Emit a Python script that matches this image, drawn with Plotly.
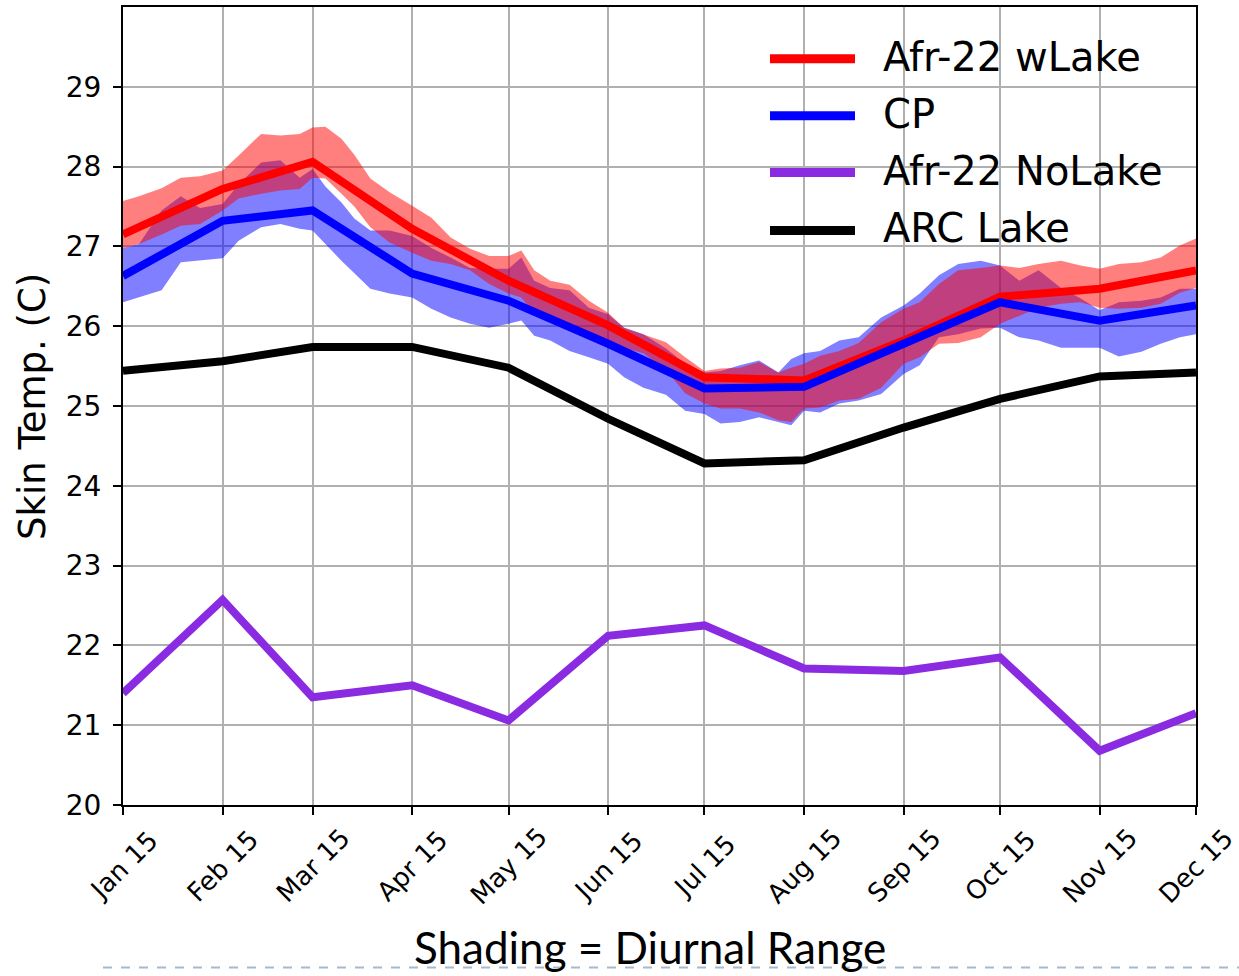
import plotly.graph_objects as go

# ---------------- data ----------------
month_dates = ["2001-01-15", "2001-02-15", "2001-03-15", "2001-04-15", "2001-05-15", "2001-06-15",
               "2001-07-15", "2001-08-15", "2001-09-15", "2001-10-15", "2001-11-15", "2001-12-15"]
month_labels = ["Jan 15", "Feb 15", "Mar 15", "Apr 15", "May 15", "Jun 15",
                "Jul 15", "Aug 15", "Sep 15", "Oct 15", "Nov 15", "Dec 15"]

afr_wlake = [27.15, 27.72, 28.06, 27.22, 26.57, 26.01, 25.36, 25.32, 25.82, 26.37, 26.47, 26.70]
cp = [26.63, 27.32, 27.45, 26.66, 26.32, 25.78, 25.22, 25.24, 25.78, 26.30, 26.07, 26.26]
afr_nolake = [21.40, 22.57, 21.35, 21.50, 21.06, 22.12, 22.25, 21.71, 21.68, 21.85, 20.68, 21.15]
arc_lake = [25.44, 25.56, 25.74, 25.74, 25.48, 24.84, 24.28, 24.32, 24.73, 25.09, 25.37, 25.42]

band_dates = ["2001-01-15", "2001-01-20", "2001-01-27", "2001-02-02", "2001-02-08", "2001-02-15",
              "2001-02-20", "2001-02-27", "2001-03-05", "2001-03-11", "2001-03-15", "2001-03-19",
              "2001-03-24", "2001-03-28", "2001-04-02", "2001-04-08", "2001-04-15", "2001-04-21",
              "2001-04-27", "2001-05-03", "2001-05-09", "2001-05-15", "2001-05-19", "2001-05-23",
              "2001-05-28", "2001-06-03", "2001-06-09", "2001-06-15", "2001-06-20", "2001-06-26",
              "2001-07-03", "2001-07-09", "2001-07-15", "2001-07-20", "2001-07-26", "2001-08-01",
              "2001-08-07", "2001-08-11", "2001-08-15", "2001-08-20", "2001-08-26", "2001-09-01",
              "2001-09-08", "2001-09-15", "2001-09-20", "2001-09-26", "2001-10-02", "2001-10-09",
              "2001-10-15", "2001-10-21", "2001-10-27", "2001-11-03", "2001-11-09", "2001-11-15",
              "2001-11-21", "2001-11-28", "2001-12-04", "2001-12-10", "2001-12-15"]

wlake_upper = [27.57, 27.63, 27.73, 27.86, 27.88, 27.95, 28.14, 28.41, 28.39, 28.41,
               28.49, 28.50, 28.35, 28.15, 27.85, 27.68, 27.51, 27.36, 27.11, 26.97,
               26.88, 26.88, 26.95, 26.70, 26.57, 26.52, 26.32, 26.17, 25.98, 25.90,
               25.80, 25.61, 25.44, 25.47, 25.48, 25.55, 25.42, 25.48, 25.53, 25.63,
               25.69, 25.79, 26.05, 26.22, 26.30, 26.53, 26.70, 26.73, 26.76, 26.73,
               26.78, 26.82, 26.76, 26.72, 26.78, 26.80, 26.86, 27.01, 27.10]
wlake_lower = [26.98, 27.03, 27.15, 27.26, 27.28, 27.45, 27.60, 27.66, 27.70, 27.72,
               27.86, 27.85, 27.66, 27.50, 27.24, 27.05, 26.92, 26.82, 26.78, 26.70,
               26.53, 26.41, 26.36, 26.15, 26.07, 25.98, 25.92, 25.78, 25.73, 25.66,
               25.45, 25.16, 25.03, 24.97, 24.97, 24.92, 24.82, 24.80, 24.97, 24.98,
               25.07, 25.09, 25.23, 25.53, 25.61, 25.78, 25.79, 25.86, 26.03, 26.13,
               26.23, 26.28, 26.30, 26.23, 26.22, 26.23, 26.28, 26.42, 26.48]
cp_upper = [26.98, 27.03, 27.45, 27.63, 27.48, 27.53, 27.78, 28.05, 28.08, 27.86,
            27.97, 27.75, 27.55, 27.35, 27.20, 27.20, 27.13, 26.98, 26.86, 26.73,
            26.72, 26.72, 26.86, 26.57, 26.48, 26.45, 26.23, 26.15, 25.98, 25.90,
            25.72, 25.53, 25.42, 25.44, 25.51, 25.57, 25.42, 25.59, 25.66, 25.69,
            25.82, 25.86, 26.11, 26.26, 26.41, 26.64, 26.78, 26.82, 26.76, 26.57,
            26.70, 26.48, 26.35, 26.20, 26.30, 26.32, 26.36, 26.47, 26.47]
cp_lower = [26.30, 26.36, 26.45, 26.80, 26.82, 26.85, 27.07, 27.24, 27.28, 27.22,
            27.20, 27.03, 26.82, 26.66, 26.47, 26.41, 26.36, 26.22, 26.11, 26.03,
            25.98, 26.03, 26.07, 25.88, 25.82, 25.69, 25.61, 25.53, 25.36, 25.23,
            25.14, 24.94, 24.90, 24.78, 24.80, 24.86, 24.80, 24.76, 24.94, 24.92,
            25.03, 25.07, 25.15, 25.40, 25.51, 25.86, 25.90, 25.97, 25.98, 25.86,
            25.82, 25.73, 25.73, 25.73, 25.62, 25.68, 25.78, 25.86, 25.90]

y_ticks = [20, 21, 22, 23, 24, 25, 26, 27, 28, 29]
series_names = ["Afr-22 wLake", "CP", "Afr-22 NoLake", "ARC Lake"]
series_colors = ["#ff0000", "#0000ff", "#8a2be2", "#000000"]

# ---------------- figure ----------------
W, H = 1239, 976
L, R, T, B = 123, 43, 5, 171
PW, PH = W - L - R, H - T - B

fig = go.Figure()

# diurnal range shading (blue first, red on top)
fig.add_trace(go.Scatter(x=band_dates + band_dates[::-1], y=cp_upper + cp_lower[::-1],
                         fill="toself", fillcolor="rgba(0,0,255,0.5)", line=dict(width=0),
                         mode="lines", showlegend=False, hoverinfo="skip"))
fig.add_trace(go.Scatter(x=band_dates + band_dates[::-1], y=wlake_upper + wlake_lower[::-1],
                         fill="toself", fillcolor="rgba(255,0,0,0.5)", line=dict(width=0),
                         mode="lines", showlegend=False, hoverinfo="skip"))

for name, vals, col in zip(series_names, [afr_wlake, cp, afr_nolake, arc_lake], series_colors):
    fig.add_trace(go.Scatter(x=month_dates, y=vals, mode="lines", name=name,
                             line=dict(color=col, width=8), showlegend=False))

fig.update_layout(
    width=W, height=H,
    margin=dict(l=L, r=R, t=T, b=B, pad=0),
    paper_bgcolor="white", plot_bgcolor="white",
    font=dict(family="DejaVu Sans", color="black"),
)
fig.update_xaxes(type="date", range=[month_dates[0], month_dates[-1]],
                 tickvals=month_dates, ticktext=month_labels, showticklabels=False,
                 showgrid=True, gridcolor="#b0b0b0", gridwidth=2,
                 showline=True, linecolor="black", linewidth=2, mirror=True,
                 ticks="outside", ticklen=8, tickwidth=2, tickcolor="black", zeroline=False)
fig.update_yaxes(range=[20, 30], tickvals=y_ticks, ticktext=[str(v) for v in y_ticks],
                 tickfont=dict(size=28, family="DejaVu Sans", color="black"),
                 showgrid=True, gridcolor="#b0b0b0", gridwidth=2,
                 showline=True, linecolor="black", linewidth=2, mirror=True,
                 ticks="outside", ticklen=8, tickwidth=2, tickcolor="black", zeroline=False,
                 ticklabelstandoff=6)

ann = []
# rotated x tick labels centred on ticks
for d, lab in zip(month_dates, month_labels):
    ann.append(dict(x=d, xref="x", y=-(866 - 805) / PH, yref="paper", text=lab, showarrow=False,
                    textangle=-45, xanchor="center", yanchor="middle",
                    font=dict(size=26, family="DejaVu Sans", color="black")))
# y axis title
ann.append(dict(x=(33 - L) / PW, xref="paper", y=(805 - 406) / PH, yref="paper",
                text="Skin Temp. (C)", showarrow=False, textangle=-90,
                xanchor="center", yanchor="middle",
                font=dict(size=37, family="DejaVu Sans", color="black")))
# bottom caption
ann.append(dict(x=(650 - L) / PW, xref="paper", y=(805 - 947) / PH, yref="paper",
                text="Shading = Diurnal Range", showarrow=False,
                xanchor="center", yanchor="middle",
                font=dict(size=44, family="Lato", color="black")))

shapes = []
# manual legend
legend_rows = [57, 114, 171, 229]
for name, col, yy in zip(series_names, series_colors, legend_rows):
    py = (805 - yy) / PH
    shapes.append(dict(type="line", xref="paper", yref="paper",
                       x0=(770 - L) / PW, x1=(855 - L) / PW, y0=py, y1=py,
                       line=dict(color=col, width=9)))
    ann.append(dict(x=(881 - L) / PW, xref="paper", y=(805 - yy + 2) / PH, yref="paper", text=name,
                    showarrow=False, xanchor="left", yanchor="middle",
                    font=dict(size=40, family="DejaVu Sans", color="black")))
# dashed slide separator
shapes.append(dict(type="line", xref="paper", yref="paper",
                   x0=(103 - L) / PW, x1=(1239 - L) / PW,
                   y0=(805 - 968) / PH, y1=(805 - 968) / PH,
                   line=dict(color="#a7b9cc", width=2, dash="dash")))

fig.update_layout(annotations=ann, shapes=shapes)
fig.write_html("out.html")
